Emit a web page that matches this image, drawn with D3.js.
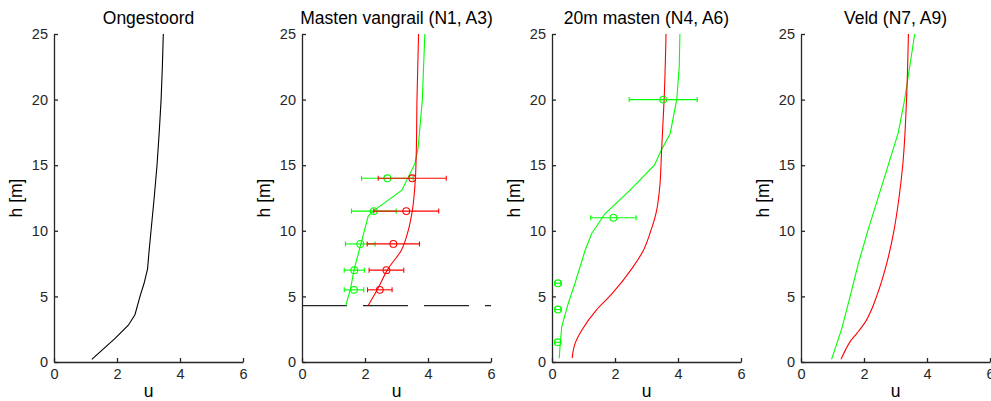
<!DOCTYPE html>
<html>
<head>
<meta charset="utf-8">
<script src="https://cdn.jsdelivr.net/npm/d3@7"></script>
<style>
  body { margin: 0; background: #fff; }
  svg { display: block; }
</style>
</head>
<body>
<div id="chart"></div>
<script>
// panel titles
const titles = ['Ongestoord', 'Masten vangrail (N1, A3)', '20m masten (N4, A6)', 'Veld (N7, A9)'];
const xTicks = [0, 2, 4, 6];
const yTicks = [0, 5, 10, 15, 20, 25];

// Ongestoord
const p1H = [0.2, 1.0, 1.8, 2.8, 3.6, 5, 6, 7.1, 8.5, 10, 12.5, 15, 17.5, 20, 22.5, 25];
const p1U = [1.2, 1.57, 1.94, 2.36, 2.57, 2.73, 2.86, 2.97, 3.02, 3.08, 3.18, 3.27, 3.34, 3.40, 3.44, 3.47];

// Masten vangrail
const p2RedH = [4.3, 5.6, 7.1, 8.5, 10, 11.5, 14, 16.2, 20, 25];
const p2RedU = [2.10, 2.41, 2.73, 3.15, 3.37, 3.50, 3.60, 3.63, 3.65, 3.70];
const p2GreenH = [4.3, 5.6, 7.1, 9, 11.1, 11.5, 13.1, 15.1, 16.2, 17.5, 20, 25];
const p2GreenU = [1.39, 1.54, 1.66, 1.87, 2.10, 2.26, 3.17, 3.58, 3.68, 3.73, 3.82, 3.90];
const p2MeasH = [5.5, 7, 9, 11.5, 14];
const p2GreenMeas = [1.65, 1.66, 1.85, 2.28, 2.71];
const p2GreenErr = [0.31, 0.32, 0.47, 0.71, 0.82];
const p2RedMeas = [2.47, 2.68, 2.90, 3.31, 3.50];
const p2RedErr = [0.39, 0.55, 0.83, 1.03, 1.08];
const p2Guard = 4.3;

// 20m masten
const p3RedH = [0.3, 1.4, 2.4, 4.0, 5.2, 7.1, 8.5, 9.8, 11.3, 13.6, 15, 16.2, 20, 25];
const p3RedU = [0.64, 0.73, 0.94, 1.42, 1.90, 2.53, 2.90, 3.11, 3.30, 3.43, 3.46, 3.48, 3.56, 3.62];
const p3GreenH = [0.28, 1.4, 2.7, 4.5, 6.0, 8.5, 9.8, 11.3, 13.1, 15.0, 16.2, 17.4, 20, 22.5, 25];
const p3GreenU = [0.23, 0.26, 0.31, 0.52, 0.73, 1.05, 1.26, 1.68, 2.48, 3.25, 3.48, 3.75, 3.96, 4.04, 4.06];
const p3MeasH = [1.5, 4, 6, 11, 20];
const p3GreenMeas = [0.18, 0.19, 0.19, 1.95, 3.53];
const p3GreenErr = [0.09, 0.09, 0.09, 0.72, 1.08];

// Veld
const p4RedH = [0.2, 1.0, 1.55, 2.2, 3, 4, 5, 7.5, 10, 12.5, 15, 20, 25];
const p4RedU = [1.27, 1.43, 1.56, 1.78, 2.03, 2.24, 2.40, 2.72, 2.95, 3.11, 3.23, 3.35, 3.41];
const p4GreenH = [0.2, 2.5, 5, 7.5, 10, 15, 17.5, 20, 25];
const p4GreenU = [0.97, 1.29, 1.56, 1.82, 2.12, 2.77, 3.09, 3.29, 3.61];

const width = 991, height = 401;
const panelLeft = [54, 302, 552, 801];
const panelW = 189;
const plotTop = 34, plotBottom = 362;

const svg = d3.select('#chart')
  .append('svg')
  .attr('width', width)
  .attr('height', height)
  .attr('font-family', 'Liberation Sans, Arial, sans-serif');

const zip = (h, u) => h.map((d, i) => ({ h: d, u: u[i] }));

const panels = [
  { lines: [{ data: zip(p1H, p1U), color: '#000000' }] },
  {
    guard: p2Guard,
    lines: [
      { data: zip(p2GreenH, p2GreenU), color: '#00ff00' },
      { data: zip(p2RedH, p2RedU), color: '#ff0000', smooth: true }
    ],
    meas: [
      { h: p2MeasH, u: p2GreenMeas, e: p2GreenErr, color: '#00ff00' },
      { h: p2MeasH, u: p2RedMeas, e: p2RedErr, color: '#ff0000' }
    ]
  },
  {
    lines: [
      { data: zip(p3GreenH, p3GreenU), color: '#00ff00' },
      { data: zip(p3RedH, p3RedU), color: '#ff0000', smooth: true }
    ],
    meas: [
      { h: p3MeasH, u: p3GreenMeas, e: p3GreenErr, color: '#00ff00' }
    ]
  },
  {
    lines: [
      { data: zip(p4GreenH, p4GreenU), color: '#00ff00' },
      { data: zip(p4RedH, p4RedU), color: '#ff0000', smooth: true }
    ]
  }
];

const yScale = d3.scaleLinear().domain([0, 25]).range([plotBottom, plotTop]);

panels.forEach((p, i) => {
  const x0 = panelLeft[i];
  const xScale = d3.scaleLinear().domain([0, 6]).range([x0, x0 + panelW]);
  const g = svg.append('g');

  // X axis
  g.append('g')
    .attr('transform', 'translate(0, ' + plotBottom + ')')
    .call(d3.axisBottom(xScale).tickValues(xTicks).tickFormat(d3.format('d'))
      .tickSize(-4).tickSizeOuter(0).tickPadding(7))
    .call(a => a.attr('font-size', 14.5).attr('font-family', null).attr('color', '#262626'))
    .call(a => a.selectAll('path,line').attr('stroke-width', 1.3));

  // Y axis
  g.append('g')
    .attr('transform', 'translate(' + x0 + ', 0)')
    .call(d3.axisLeft(yScale).tickValues(yTicks).tickFormat(d3.format('d'))
      .tickSize(-4).tickSizeOuter(0).tickPadding(6))
    .call(a => a.attr('font-size', 14.5).attr('font-family', null).attr('color', '#262626'))
    .call(a => a.selectAll('path,line').attr('stroke-width', 1.3));

  // title
  g.append('text')
    .attr('x', x0 + panelW / 2)
    .attr('y', 23.5)
    .attr('text-anchor', 'middle')
    .attr('font-size', 17.5)
    .attr('fill', '#000')
    .text(titles[i]);

  // x label
  g.append('text')
    .attr('x', x0 + panelW / 2)
    .attr('y', 397)
    .attr('text-anchor', 'middle')
    .attr('font-size', 17.5)
    .attr('fill', '#000')
    .text('u');

  // y label
  g.append('text')
    .attr('transform', 'translate(' + (x0 - 32) + ', ' + ((plotTop + plotBottom) / 2) + ') rotate(-90)')
    .attr('text-anchor', 'middle')
    .attr('font-size', 17.5)
    .attr('fill', '#000')
    .text('h [m]');

  if (p.guard !== undefined) {
    g.append('line')
      .attr('x1', xScale(0))
      .attr('x2', xScale(6))
      .attr('y1', yScale(p.guard))
      .attr('y2', yScale(p.guard))
      .attr('stroke', '#262626')
      .attr('stroke-width', 1.2)
      .attr('stroke-dasharray', '45,16');
  }

  p.lines.forEach(l => {
    const line = d3.line()
      .x(d => xScale(d.u))
      .y(d => yScale(d.h))
      .curve(l.smooth ? d3.curveMonotoneY : d3.curveLinear);
    g.append('path')
      .datum(l.data)
      .attr('d', line)
      .attr('fill', 'none')
      .attr('stroke', l.color)
      .attr('stroke-width', 1.1);
  });

  (p.meas || []).forEach(m => {
    const pts = zip(m.h, m.u).map((d, k) => ({ h: d.h, u: d.u, e: m.e[k] }));
    const eg = g.append('g').attr('stroke', m.color).attr('fill', 'none').attr('stroke-width', 1.1);
    pts.forEach(d => {
      const y = yScale(d.h);
      const xa = xScale(d.u - d.e), xb = xScale(d.u + d.e);
      eg.append('line').attr('x1', xa).attr('x2', xb).attr('y1', y).attr('y2', y);
      eg.append('line').attr('x1', xa).attr('x2', xa).attr('y1', y - 2.5).attr('y2', y + 2.5);
      eg.append('line').attr('x1', xb).attr('x2', xb).attr('y1', y - 2.5).attr('y2', y + 2.5);
      eg.append('circle').attr('cx', xScale(d.u)).attr('cy', y).attr('r', 3.4);
    });
  });
});
</script>
</body>
</html>
